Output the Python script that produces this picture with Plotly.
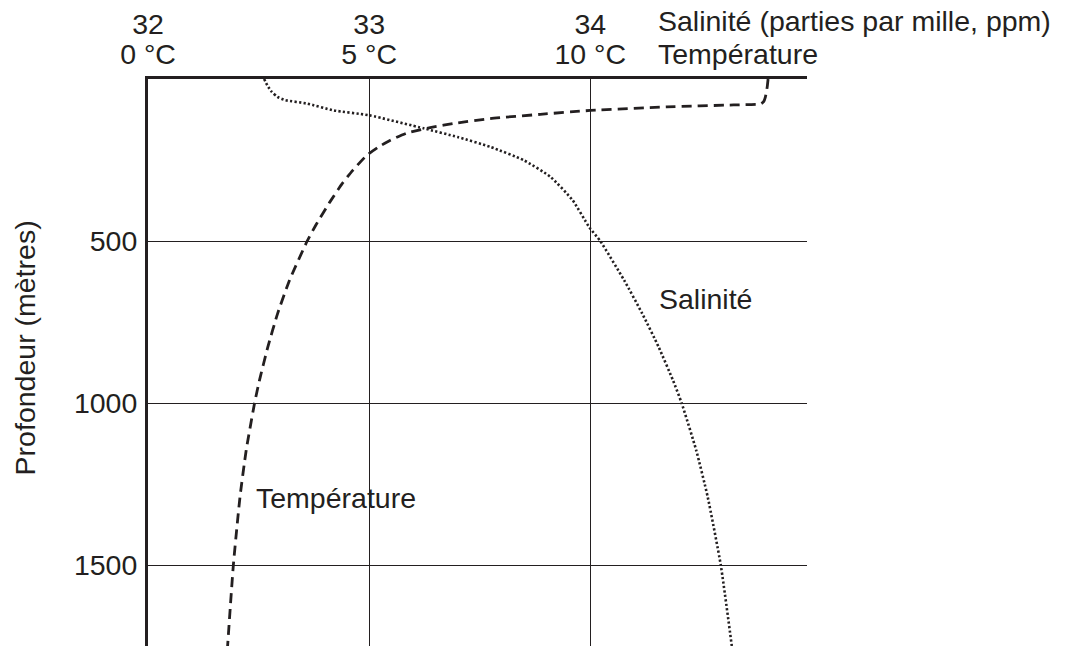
import plotly.graph_objects as go

# ---- data ----
temp_depth = [0, 25, 55, 70, 77, 80, 86, 97, 109, 122, 136, 150, 167, 189, 210, 235,
              282, 323, 380, 452, 500, 621, 724, 827, 930, 1000, 1146, 1290, 1500, 1750]
temp_c = [14.02, 14.0, 13.96, 13.92, 13.85, 13.24, 11.73, 10.0, 8.87, 7.74, 6.98, 6.38,
          5.85, 5.48, 5.21, 4.95, 4.63, 4.39, 4.11, 3.79, 3.60, 3.20, 2.93, 2.71, 2.52,
          2.41, 2.22, 2.08, 1.93, 1.80]

sal_depth = [0, 20, 40, 55, 65, 76, 97, 112, 153, 179, 210, 251, 302, 374, 457, 500,
             621, 724, 827, 930, 1000, 1146, 1290, 1500, 1750]
sal_ppm = [32.525, 32.54, 32.56, 32.585, 32.62, 32.72, 32.84, 33.0, 33.25, 33.40, 33.55,
           33.70, 33.82, 33.92, 33.995, 34.045, 34.153, 34.235, 34.309, 34.374, 34.413,
           34.479, 34.531, 34.590, 34.640]

temp_ticks = [0, 5, 10]
temp_ticktext = ["0 °C", "5 °C", "10 °C"]
sal_ticks = [32, 33, 34]
sal_ticktext = ["32", "33", "34"]
depth_ticks = [500, 1000, 1500]
depth_ticktext = ["500", "1000", "1500"]

INK = "#231f20"
FONT = "Liberation Sans, Arial, Helvetica, sans-serif"
FS = 28.5

fig = go.Figure()
fig.add_trace(go.Scatter(
    x=temp_c, y=temp_depth, mode="lines", xaxis="x", yaxis="y",
    line=dict(color=INK, width=2.8, dash="10px,6px", shape="spline", smoothing=0.5),
    showlegend=False, hoverinfo="skip"))
fig.add_trace(go.Scatter(
    x=sal_ppm, y=sal_depth, mode="lines", xaxis="x2", yaxis="y",
    line=dict(color=INK, width=2.6, dash="2.2px,2.3px", shape="spline", smoothing=0.5),
    showlegend=False, hoverinfo="skip"))

fig.update_layout(
    width=1067, height=646,
    margin=dict(l=148, r=260, t=79, b=0, pad=0),
    paper_bgcolor="white", plot_bgcolor="white",
    font=dict(family=FONT, size=FS, color=INK),
    hovermode=False,
    xaxis=dict(
        range=[0, 14.9], side="top", tickmode="array",
        tickvals=temp_ticks, ticktext=temp_ticktext,
        showgrid=True, gridcolor=INK, gridwidth=1, zeroline=False,
        showline=True, linecolor=INK, linewidth=3, ticks="",
        tickfont=dict(size=FS, color=INK), ticklabelstandoff=1,
        fixedrange=True),
    xaxis2=dict(
        range=[32, 34.98], overlaying="x", side="top", anchor="y",
        tickmode="array", tickvals=sal_ticks, ticktext=sal_ticktext,
        showgrid=False, zeroline=False, showline=False, ticks="",
        tickfont=dict(size=FS, color=INK), ticklabelstandoff=38,
        fixedrange=True),
    yaxis=dict(
        range=[1750, 0], tickmode="array", tickvals=depth_ticks, ticktext=depth_ticktext,
        showgrid=True, gridcolor=INK, gridwidth=1, zeroline=False,
        showline=True, linecolor=INK, linewidth=3, ticks="",
        tickfont=dict(size=FS, color=INK), ticklabelstandoff=2,
        fixedrange=True),
)

annotations = [
    dict(text="Profondeur (mètres)", xref="paper", yref="paper",
         x=-0.1872, y=0.526, xanchor="center", yanchor="middle",
         textangle=-90, showarrow=False, font=dict(size=FS, color=INK)),
    dict(text="Salinité (parties par mille, ppm)", xref="paper", yref="paper",
         x=0.7712, y=1.1017, xanchor="left", yanchor="middle",
         showarrow=False, font=dict(size=FS, color=INK)),
    dict(text="Température", xref="paper", yref="paper",
         x=0.7712, y=1.0435, xanchor="left", yanchor="middle",
         showarrow=False, font=dict(size=FS, color=INK)),
    dict(text="Salinité", xref="x", yref="y", x=11.5, y=678,
         xanchor="left", yanchor="middle", showarrow=False,
         font=dict(size=FS, color=INK)),
    dict(text="Température", xref="x", yref="y", x=2.4, y=1292,
         xanchor="left", yanchor="middle", showarrow=False,
         font=dict(size=FS, color=INK)),
]
fig.update_layout(annotations=annotations)

fig.write_html(
    "out.html",
    config={"displayModeBar": False, "staticPlot": True},
    post_script="document.body.style.margin='0';document.body.style.overflow='hidden';",
)
